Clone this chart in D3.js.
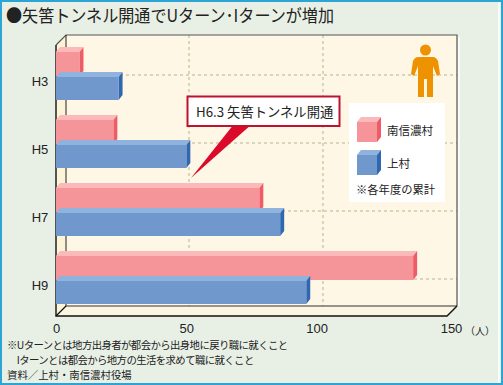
<!DOCTYPE html>
<html lang="ja">
<head>
    <meta charset="UTF-8">
    <title>矢筈トンネル開通でUターン・Iターンが増加</title>
    <script src="https://d3js.org/d3.v7.min.js"></script>
    <style>
        html, body { margin: 0; padding: 0; background: #e8f0e6; }
        svg { display: block; }
        text { font-family: "Noto Sans CJK JP", "Noto Sans", sans-serif; fill: #222; }
        .tick text, .ylabel { font-family: "Liberation Sans", sans-serif; }
    </style>
</head>
<body>
    <svg width="503" height="385"></svg>

    <script>
        const years = ["H3", "H5", "H7", "H9"];
        const minamishinano = [9, 22, 78, 137];
        const kamimura = [24, 50, 86, 96];
        const xTicks = [0, 50, 100, 150];
        const seriesNames = ["南信濃村", "上村"];
        const footnotes = [
            "※Uターンとは地方出身者が都会から出身地に戻り職に就くこと",
            "　Iターンとは都会から地方の生活を求めて職に就くこと",
            "資料／上村・南信濃村役場"
        ];

        const svg = d3.select("svg");

        const depth = 10;     // 奥行き
        const barDepth = 4;
        const barH = 24;
        const plotL = 56, plotR = 447, plotB = 316, plotT = 45;

        const x = d3.scaleLinear().domain([0, 150]).range([plotL, plotR]);
        const y = d3.scalePoint().domain(years).range([76, 280]);
        // 奥の壁の目盛り位置は少しずれている
        const xBack = d3.scaleLinear().domain(xTicks).range([66, 189, 323, 457]);

        // 外枠
        svg.append("rect").attr("x", 1).attr("y", 1).attr("width", 501).attr("height", 383)
            .attr("fill", "#e8f0e6").attr("stroke", "#2aa5d6").attr("stroke-width", 2);
        svg.append("line").attr("x1", 499).attr("x2", 499).attr("y1", 2).attr("y2", 383)
            .attr("stroke", "#ffffff").attr("stroke-width", 1.5);

        // タイトル
        svg.append("text").attr("x", 6).attr("y", 22)
            .attr("font-size", 17.5)
            .attr("textLength", 328).attr("lengthAdjust", "spacingAndGlyphs")
            .text("●矢筈トンネル開通でUターン･Iターンが増加");

        // 背面・床・側面
        const plot = svg.append("g");
        plot.append("rect")
            .attr("x", plotL + depth).attr("y", plotT - depth)
            .attr("width", plotR - plotL).attr("height", plotB - plotT)
            .attr("fill", "#fef7e5");
        plot.append("path")
            .attr("d", d3.line()([[plotL, plotT], [plotL + depth, plotT - depth], [plotL + depth, plotB - depth], [plotL, plotB]]) + "Z")
            .attr("fill", "#fdf3d8");
        plot.append("path")
            .attr("d", d3.line()([[plotL, plotB], [plotL + depth, plotB - depth], [plotR + depth, plotB - depth], [plotR, plotB]]) + "Z")
            .attr("fill", "#fbf5e4");

        // グリッド
        plot.selectAll(".vgrid")
            .data(xTicks.slice(1, 3))
            .enter().append("line")
            .attr("class", "vgrid")
            .attr("x1", d => xBack(d)).attr("x2", d => xBack(d))
            .attr("y1", plotT - depth).attr("y2", plotB - depth)
            .attr("stroke", "#c9ccaa").attr("stroke-width", 1.5)
            .attr("stroke-dasharray", "3 3");
        plot.selectAll(".hgrid")
            .data(years)
            .enter().append("line")
            .attr("class", "hgrid")
            .attr("x1", plotL + depth).attr("x2", plotR + depth)
            .attr("y1", d => y(d) - 1).attr("y2", d => y(d) - 1)
            .attr("stroke", "#c9ccaa").attr("stroke-width", 1.5)
            .attr("stroke-dasharray", "3 3");

        // 枠線
        plot.append("path")
            .attr("d", d3.line()([[plotL, plotT], [plotL + depth, plotT - depth], [plotR + depth, plotT - depth], [plotR + depth, plotB - depth]]))
            .attr("fill", "none").attr("stroke", "#555").attr("stroke-width", 1.2);
        plot.append("line")
            .attr("x1", plotL + depth).attr("x2", plotL + depth)
            .attr("y1", plotT - depth).attr("y2", plotB - depth)
            .attr("stroke", "#222").attr("stroke-width", 1);
        plot.append("line")
            .attr("x1", plotL + depth).attr("x2", plotR + depth)
            .attr("y1", plotB - depth).attr("y2", plotB - depth)
            .attr("stroke", "#333").attr("stroke-width", 1.2);
        plot.append("line")
            .attr("x1", plotR + depth + 2).attr("x2", plotR + depth + 2)
            .attr("y1", plotT - depth + 2).attr("y2", plotB - depth)
            .attr("stroke", "#ffffff").attr("stroke-width", 1.5);
        plot.append("path")
            .attr("d", d3.line()([[plotL, plotT], [plotL, plotB], [plotR, plotB], [plotR + depth, plotB - depth]]))
            .attr("fill", "none").attr("stroke", "#111").attr("stroke-width", 1.4);
        plot.append("line")
            .attr("x1", plotL).attr("x2", plotL + depth)
            .attr("y1", plotB).attr("y2", plotB - depth)
            .attr("stroke", "#111").attr("stroke-width", 1.2);

        // 立体の棒
        function drawBar(g, x0, x1, yTop, h, d, c) {
            g.append("path")
                .attr("d", d3.line()([[x0, yTop], [x0 + d, yTop - d - 1], [x1 + d, yTop - d - 1], [x1, yTop]]) + "Z")
                .attr("fill", c.top);
            g.append("path")
                .attr("d", d3.line()([[x1, yTop], [x1 + d, yTop - d - 1], [x1 + d, yTop + h - d - 1], [x1, yTop + h]]) + "Z")
                .attr("fill", c.side);
            g.append("rect")
                .attr("x", x0).attr("y", yTop).attr("width", x1 - x0).attr("height", h)
                .attr("fill", c.front);
        }

        const pink = { front: "#f59499", top: "#fcb9b9", side: "#ee5c68" };
        const blue = { front: "#7098cc", top: "#8fb3dc", side: "#2f68b0" };

        const bars = svg.append("g");
        years.forEach((yr, i) => {
            drawBar(bars, x(0), x(minamishinano[i]), y(yr) - barH, barH, barDepth, pink);
            drawBar(bars, x(0), x(kamimura[i]), y(yr) + 1, barH - 1, barDepth, blue);
        });

        // 軸
        const xAxis = d3.axisBottom(x).tickValues(xTicks).tickSize(0).tickPadding(8);
        const xAxisG = svg.append("g").attr("transform", `translate(0,${plotB})`).call(xAxis);
        xAxisG.select(".domain").remove();
        xAxisG.selectAll("text").attr("font-size", 13).attr("fill", "#222")
            .attr("transform", d => d === 150 ? "translate(4,0)" : null);

        svg.append("text").attr("x", 465).attr("y", 335).attr("font-size", 10).attr("fill", "#777").text("（人）");

        svg.selectAll(".ylabel")
            .data(years)
            .enter().append("text")
            .attr("class", "ylabel")
            .attr("x", 40).attr("y", d => y(d) + 10)
            .attr("text-anchor", "middle")
            .attr("font-size", 13)
            .text(d => d);

        // 吹き出し
        const callout = svg.append("g");
        callout.append("path")
            .attr("d", d3.line()([[234, 124], [191, 178], [252, 124]]) + "Z")
            .attr("fill", "#dc0a2a");
        callout.append("rect")
            .attr("x", 187.5).attr("y", 96.5).attr("width", 152).attr("height", 29.5)
            .attr("fill", "#fff").attr("stroke", "#bf1230").attr("stroke-width", 2);
        callout.append("text")
            .attr("x", 196).attr("y", 117).attr("font-size", 13.3)
            .text("H6.3 矢筈トンネル開通");

        // 凡例
        const legend = svg.append("g");
        legend.append("rect")
            .attr("x", 349).attr("y", 103).attr("width", 96).attr("height", 99)
            .attr("fill", "#fff");
        const legendColors = [pink, blue];
        seriesNames.forEach((name, i) => {
            const ly = 122 + i * 33;
            drawBar(legend, 357, 377, ly, 20, 4, legendColors[i]);
            legend.append("text")
                .attr("x", 387).attr("y", ly + 13)
                .attr("font-size", 11.5).attr("fill", "#444")
                .text(name);
        });
        legend.append("text")
            .attr("x", 356).attr("y", 194)
            .attr("font-size", 11.3).attr("fill", "#444")
            .text("※各年度の累計");

        // 人のアイコン
        const person = svg.append("g").attr("fill", "#ee9200");
        person.append("circle").attr("cx", 425.5).attr("cy", 50).attr("r", 5.5);
        person.append("path")
            .attr("d", "M418 57 L433 57 Q436 57 438 61 L440 74 L437 76 L433 66 L433 97 L427 97 L427 79 L424 79 L424 97 L418 97 L418 66 L414 76 L411 74 L413 61 Q415 57 418 57 Z");

        // 注記
        svg.selectAll(".note")
            .data(footnotes)
            .enter().append("text")
            .attr("class", "note")
            .attr("x", 7)
            .attr("y", (d, i) => 349 + i * 15)
            .attr("font-size", 10.4)
            .attr("letter-spacing", (d, i) => i < 2 ? -0.6 : 0)
            .text(d => d);
    </script>
</body>
</html>
